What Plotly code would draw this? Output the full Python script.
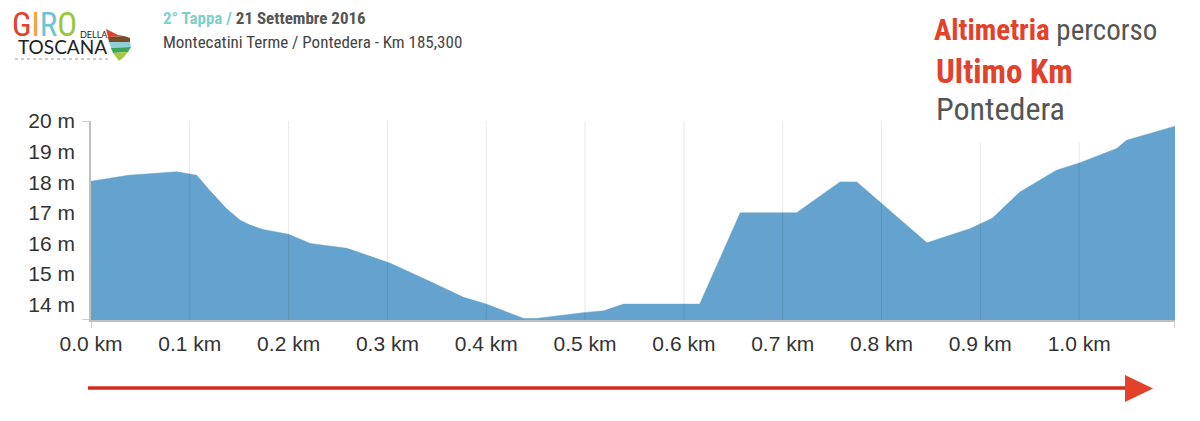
import plotly.graph_objects as go

# ---------------- data ----------------
km = [0, 0.038, 0.087, 0.107, 0.12, 0.137, 0.151, 0.161, 0.174, 0.2, 0.222, 0.259,
      0.279, 0.303, 0.347, 0.377, 0.4, 0.438, 0.451, 0.498, 0.519, 0.539, 0.616,
      0.657, 0.714, 0.758, 0.775, 0.846, 0.89, 0.912, 0.94, 0.977, 1.001, 1.038,
      1.048, 1.097]
elev = [18.03, 18.23, 18.34, 18.23, 17.74, 17.14, 16.76, 16.6, 16.46, 16.3, 16.0, 15.84,
        15.62, 15.35, 14.70, 14.24, 14.02, 13.55, 13.55, 13.74, 13.80, 14.02, 14.02,
        17.0, 17.0, 18.01, 18.01, 16.02, 16.49, 16.82, 17.68, 18.39, 18.64, 19.10,
        19.37, 19.83]
x_ticks = [0.0, 0.1, 0.2, 0.3, 0.4, 0.5, 0.6, 0.7, 0.8, 0.9, 1.0]
x_labels = ["0.0 km", "0.1 km", "0.2 km", "0.3 km", "0.4 km", "0.5 km", "0.6 km",
            "0.7 km", "0.8 km", "0.9 km", "1.0 km"]
y_ticks = [14, 15, 16, 17, 18, 19, 20]
y_labels = ["14 m", "15 m", "16 m", "17 m", "18 m", "19 m", "20 m"]

# ---------------- layout geometry ----------------
W, H = 1200, 421
L, R, T, B = 91, 25, 121, 101
PW, PH = W - L - R, H - T - B


def px(xp):
    return (xp - L) / PW


def py(yp):
    return (H - B - yp) / PH


RED = "#e2412a"
GREY = "#555555"
FILL = "#64a3cd"
NARROW = "Liberation Sans Narrow, Roboto Condensed, Arial Narrow, sans-serif"
SANS = "Liberation Sans, Arial, sans-serif"

fig = go.Figure()
fig.add_trace(go.Scatter(
    x=km, y=elev, mode="lines", fill="tozeroy",
    line=dict(color=FILL, width=0.5), fillcolor=FILL,
    hoverinfo="skip", showlegend=False,
))

shapes = []
# vertical grid lines drawn over the area
for xv in x_ticks[1:]:
    shapes.append(dict(type="line", xref="x", yref="paper", x0=xv, x1=xv, y0=0, y1=1,
                       line=dict(color="rgba(0,0,0,0.09)", width=1), layer="above"))
# corner ticks
for xv in [0, km[-1]]:
    shapes.append(dict(type="line", xref="x", yref="paper", ysizemode="pixel", yanchor=0,
                       x0=xv, x1=xv, y0=0, y1=-8, line=dict(color="#c0c0c0", width=1.5)))
for yv in [13.5, 20]:
    shapes.append(dict(type="line", yref="y", xref="paper", xsizemode="pixel", xanchor=0,
                       y0=yv, y1=yv, x0=-9, x1=0, line=dict(color="#c0c0c0", width=1.5)))

# direction arrow
shapes.append(dict(type="line", xref="paper", yref="paper", x0=px(88), x1=px(1128),
                   y0=py(388), y1=py(388), line=dict(color="#d42b1e", width=3.5)))
shapes.append(dict(type="path", xref="paper", yref="paper",
                   path=f"M {px(1125)} {py(375)} L {px(1153)} {py(388.5)} L {px(1125)} {py(402)} Z",
                   fillcolor=RED, line=dict(width=0)))

# logo: Tuscany stripes
stripes = [
    ("#e2412a", [(106, 29), (110, 31), (118, 35), (124, 36), (108, 37)]),
    ("#7b4a2c", [(108, 37), (124, 36), (130, 38), (130, 42), (109, 42)]),
    ("#8fd0d6", [(109, 42), (130, 42), (131, 47), (111, 48)]),
    ("#3fa35a", [(111, 48), (131, 47), (128, 52), (113, 53)]),
    ("#a7c93d", [(113, 53), (128, 52), (123, 58), (119, 61), (116, 57)]),
]
for col, pts in stripes:
    path = "M " + " L ".join(f"{px(a)} {py(b)}" for a, b in pts) + " Z"
    shapes.append(dict(type="path", xref="paper", yref="paper", path=path,
                       fillcolor=col, line=dict(width=0)))
# logo dotted line
shapes.append(dict(type="line", xref="paper", yref="paper", x0=px(15), x1=px(110),
                   y0=py(59), y1=py(59), line=dict(color="#9a9a9a", width=1, dash="dot")))

ann = []
# logo text
ann.append(dict(xref="paper", yref="paper", x=px(10), y=py(25), xanchor="left", yanchor="middle",
                showarrow=False,
                text="<span style='color:#e2412a'>G</span><span style='color:#f2a33a'>I</span>"
                     "<span style='color:#6cc5d0'>R</span><span style='color:#9cc53a'>O</span>",
                font=dict(family=NARROW, size=33, color="#e2412a")))
ann.append(dict(xref="paper", yref="paper", x=px(78), y=py(34), xanchor="left", yanchor="middle",
                showarrow=False, text="DELLA",
                font=dict(family="Lato, sans-serif", size=9, color="#222")))
ann.append(dict(xref="paper", yref="paper", x=px(16), y=py(47), xanchor="left", yanchor="middle",
                showarrow=False, text="TOSCANA",
                font=dict(family="Lato, sans-serif", size=19, color="#222")))

# header
ann.append(dict(xref="paper", yref="paper", x=px(161), y=py(18), xanchor="left", yanchor="middle",
                showarrow=False,
                text="<b><span style='color:#7fcfca'>2° Tappa /</span> 21 Settembre 2016</b>",
                font=dict(family=NARROW, size=17, color="#555555")))
ann.append(dict(xref="paper", yref="paper", x=px(161), y=py(42), xanchor="left", yanchor="middle",
                showarrow=False, text="Montecatini Terme / Pontedera - Km 185,300",
                font=dict(family=NARROW, size=17, color="#444444")))

# right titles
ann.append(dict(xref="paper", yref="paper", x=px(932), y=py(30), xanchor="left", yanchor="middle",
                showarrow=False,
                text=f"<b><span style='color:{RED}'>Altimetria</span></b> percorso",
                font=dict(family=NARROW, size=29, color=GREY)))
ann.append(dict(xref="paper", yref="paper", x=px(934), y=py(72), xanchor="left", yanchor="middle",
                showarrow=False, text="<b>Ultimo Km</b>",
                font=dict(family=NARROW, size=33, color=RED)))
ann.append(dict(xref="paper", yref="paper", x=px(933), y=py(143), xanchor="left", yanchor="bottom",
                showarrow=False, text="Pontedera", bgcolor="white", width=165, height=50,
                align="left", valign="top", borderpad=2,
                font=dict(family=NARROW, size=32, color=GREY)))

fig.update_layout(
    width=W, height=H,
    margin=dict(l=L, r=R, t=T, b=B, pad=0),
    paper_bgcolor="white", plot_bgcolor="white",
    showlegend=False,
    shapes=shapes, annotations=ann,
    xaxis=dict(range=[0, km[-1]], tickvals=x_ticks, ticktext=x_labels, showgrid=False,
               zeroline=False, showline=True, linecolor="#c0c0c0", linewidth=1.5,
               ticks="", ticklabelstandoff=4,
               tickfont=dict(family=SANS, size=21, color="#333333"), fixedrange=True),
    yaxis=dict(range=[13.5, 20], tickvals=y_ticks, ticktext=y_labels, showgrid=False,
               zeroline=False, showline=True, linecolor="#c0c0c0", linewidth=1.5,
               ticks="", ticklabelstandoff=10,
               tickfont=dict(family=SANS, size=21, color="#333333"), fixedrange=True),
)

fig.write_html("out.html", config={"displayModeBar": False},
               post_script="document.body.style.margin='0';document.body.style.overflow='hidden';")
